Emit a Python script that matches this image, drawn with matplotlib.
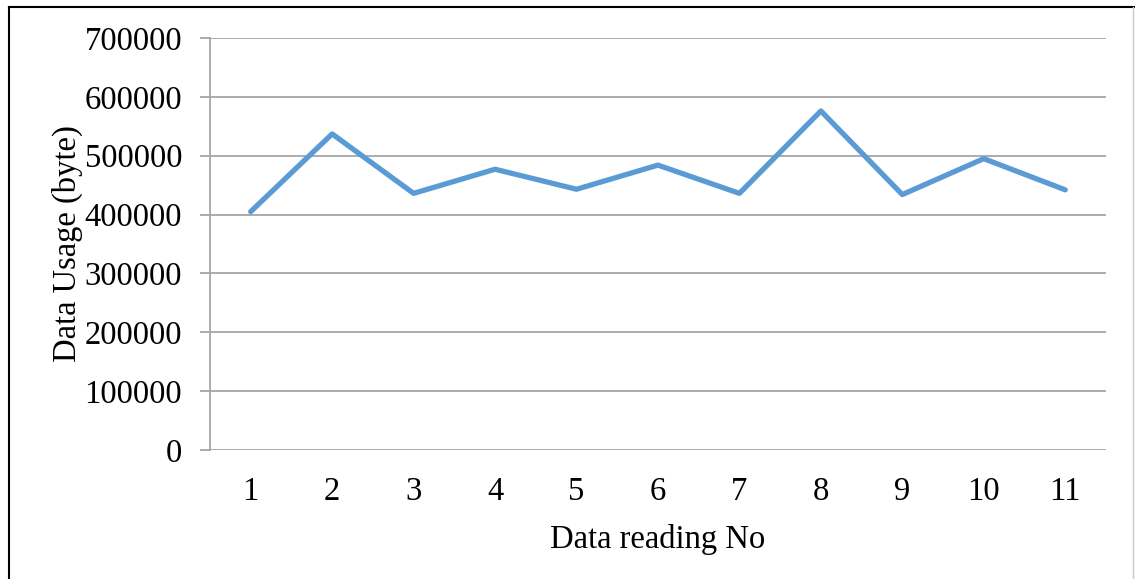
import matplotlib.pyplot as plt
from matplotlib.lines import Line2D

plt.rcParams["font.family"] = ["Liberation Serif", "DejaVu Serif"]

# Data usage per reading
readings = [1, 2, 3, 4, 5, 6, 7, 8, 9, 10, 11]
usage = [405000, 537000, 436000, 477000, 443000, 484000, 436000, 576000, 434000, 495000, 442000]
yticks = [0, 100000, 200000, 300000, 400000, 500000, 600000, 700000]

fig = plt.figure(figsize=(11.35, 5.79), dpi=100)
ax = fig.add_axes([0.185, 0.2228, 0.7894, 0.7116])

grid_col = "#A6A6A6"
fs = 23.5
ax.plot(readings, usage, color="#5B9BD5", linewidth=3.8,
        solid_capstyle="round", solid_joinstyle="round", zorder=3)

ax.set_xlim(0.5, 11.5)
ax.set_ylim(0, 700000)
ax.set_xticks(readings)
ax.set_xticklabels([str(r) for r in readings])
ax.set_yticks(yticks)
ax.set_yticklabels([str(t) for t in yticks])

ax.yaxis.grid(True, color=grid_col, linewidth=1.3)
ax.set_axisbelow(True)
for side in ["top", "right", "bottom"]:
    ax.spines[side].set_visible(False)
ax.spines["left"].set_color(grid_col)
ax.spines["left"].set_linewidth(1.3)

ax.tick_params(axis="y", length=7, width=1.3, color=grid_col, pad=13, labelsize=fs)
ax.tick_params(axis="x", length=0, pad=19, labelsize=fs)

ax.set_xlabel("Data reading No", fontsize=fs, labelpad=12)
ax.set_ylabel("Data Usage (byte)", fontsize=fs, labelpad=1)

# outer frame
fig.add_artist(Line2D([9 / 1135, 9 / 1135], [0, 1 - 7 / 579], transform=fig.transFigure,
                      color="black", linewidth=1.5))
fig.add_artist(Line2D([9 / 1135, 1], [1 - 7 / 579, 1 - 7 / 579], transform=fig.transFigure,
                      color="black", linewidth=1.5))
fig.add_artist(Line2D([1133 / 1135, 1133 / 1135], [0, 1 - 7 / 579], transform=fig.transFigure,
                      color="#C8C8C8", linewidth=1.0))

fig.savefig("out.png", dpi=100)
